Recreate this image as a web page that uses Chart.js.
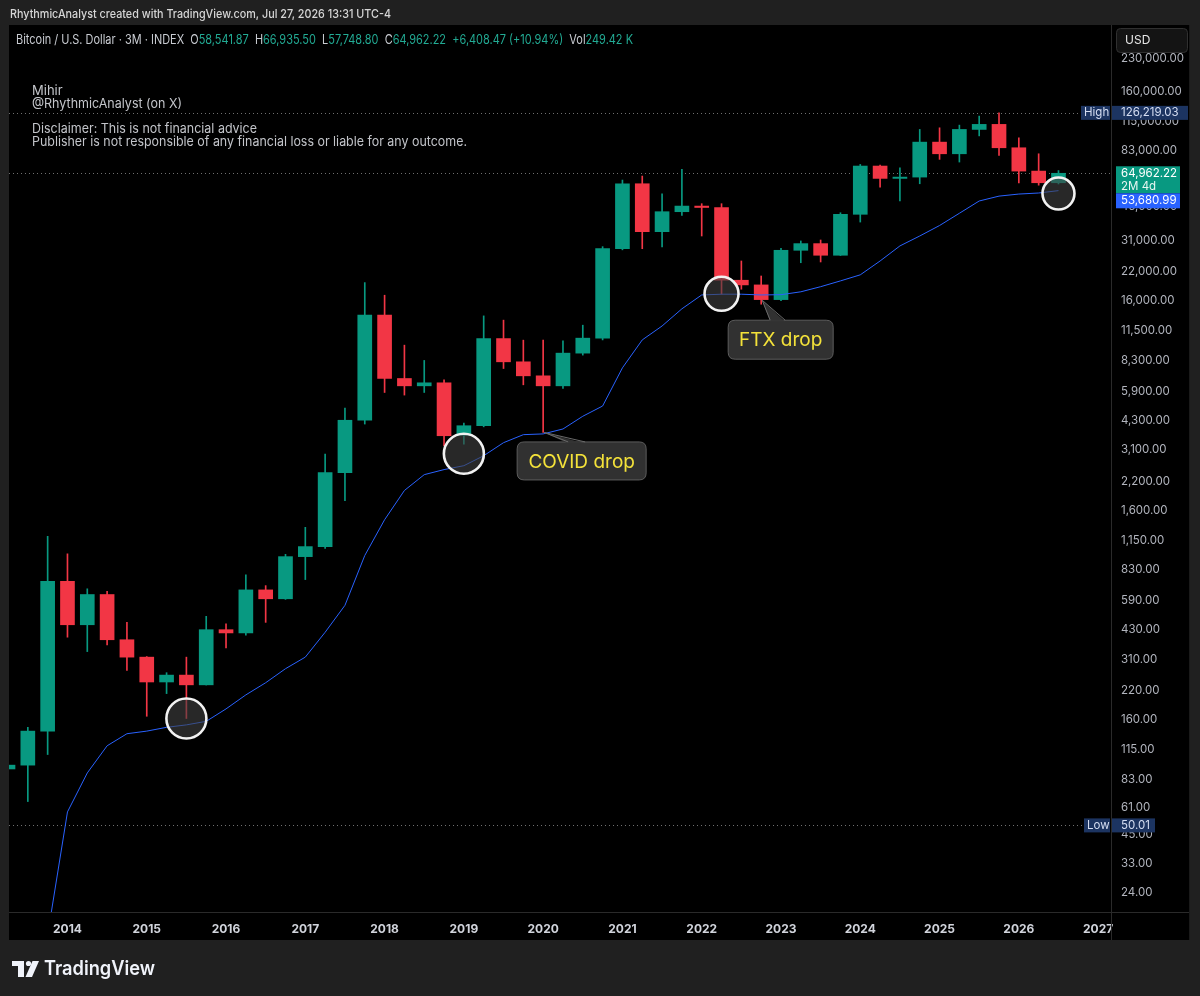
<!DOCTYPE html>
<html>
<head>
<meta charset="utf-8">
<title>Bitcoin / U.S. Dollar · 3M · INDEX</title>
<script src="https://cdn.jsdelivr.net/npm/chart.js@4.4.1/dist/chart.umd.min.js"></script>
<style>
  html, body { margin: 0; padding: 0; background: #202020; overflow: hidden; }
  canvas { display: block; }
</style>
</head>
<body>
<canvas id="chart" width="1200" height="996"></canvas>
<script>
// ---------------- DATA ----------------
const quarters = [
  '2013 Q2','2013 Q3','2013 Q4',
  '2014 Q1','2014 Q2','2014 Q3','2014 Q4',
  '2015 Q1','2015 Q2','2015 Q3','2015 Q4',
  '2016 Q1','2016 Q2','2016 Q3','2016 Q4',
  '2017 Q1','2017 Q2','2017 Q3','2017 Q4',
  '2018 Q1','2018 Q2','2018 Q3','2018 Q4',
  '2019 Q1','2019 Q2','2019 Q3','2019 Q4',
  '2020 Q1','2020 Q2','2020 Q3','2020 Q4',
  '2021 Q1','2021 Q2','2021 Q3','2021 Q4',
  '2022 Q1','2022 Q2','2022 Q3','2022 Q4',
  '2023 Q1','2023 Q2','2023 Q3','2023 Q4',
  '2024 Q1','2024 Q2','2024 Q3','2024 Q4',
  '2025 Q1','2025 Q2','2025 Q3','2025 Q4',
  '2026 Q1','2026 Q2','2026 Q3'
];
const opens = [
  93, 97, 141,
  732, 454, 633, 385,
  318, 242, 261, 234.5,
  430, 415, 666, 604,
  960, 1072, 2416, 4300,
  13650, 6805, 6278, 6490,
  3650, 4049, 10555, 8175,
  7008, 6278, 8993, 10603,
  28350, 57900, 34180, 42580,
  45300, 44600, 20045, 19040,
  16200, 27860, 29980, 26380,
  41380, 70340, 61400, 62300,
  91500, 80500, 105200, 111200,
  86000, 66550, 58541.87
];
const highs = [
  266, 147, 1200,
  990, 674, 656, 466,
  320, 268, 318, 498,
  458, 785, 698, 985,
  1325, 2967, 4915, 19530,
  17000, 9818, 8300, 6708,
  4166, 13545, 12925, 10373,
  10373, 10290, 12228, 29000,
  60300, 63000, 51870, 67800,
  46500, 46500, 24770, 21000,
  28450, 30870, 31200, 42100,
  71600, 71000, 69000, 105200,
  107100, 110300, 121800, 126219.03,
  95900, 80500, 66935.50
];
const lows = [
  50.01, 65, 109,
  396, 338, 364, 275,
  166, 213, 162, 234,
  352, 405, 466, 600,
  746, 1050, 1777, 4124,
  5835, 5671, 5835, 3250,
  3310, 4000, 7594, 6349,
  3761, 6096, 8800, 10400,
  28000, 28350, 28900, 40900,
  32600, 17190, 18160, 15400,
  16000, 24300, 24500, 26300,
  38000, 55800, 47900, 57900,
  75700, 73500, 98000, 79100,
  58500, 57000, 57748.80
];
const closes = [
  97, 141, 732,
  454, 633, 385, 318,
  242, 261, 234.5, 430,
  415, 666, 604, 960,
  1072, 2416, 4300, 13650,
  6805, 6278, 6490, 3627,
  4049, 10555, 8175, 7008,
  6278, 8993, 10603, 28350,
  57900, 34180, 42580, 45300,
  44600, 20045, 19040, 16200,
  27860, 29980, 26380, 41380,
  70340, 61400, 62300, 91500,
  80500, 105200, 111200, 86000,
  66550, 58541.87, 64962.22
];
const maValues = [
  null, null, 15,
  58, 89, 120, 137,
  141, 147, 151, 157,
  180, 210, 240, 280,
  318, 418, 562, 972,
  1440, 1987, 2364, 2500,
  2609, 2911, 3360, 3670,
  3700, 3907, 4493, 5028,
  7650, 10400, 12120, 14640,
  17050, 17190, 17190, 17050,
  17100, 17650, 18670, 19900,
  21270, 24770, 29230, 32600,
  36580, 41850, 47900, 50540,
  51700, 52300, 53680.99
];
const yTickValues = [24, 33, 45, 61, 83, 115, 160, 220, 310, 430, 590, 830, 1150, 1600, 2200,
  3100, 4300, 5900, 8300, 11500, 16000, 22000, 31000, 45000, 61000, 83000, 115000, 160000, 230000];
const yearLabels = ['2014','2015','2016','2017','2018','2019','2020','2021','2022','2023','2024','2025','2026','2027'];

// annotations (anchored to data through the scales)
const circleQuarters = ['2015 Q3', '2019 Q1', '2022 Q2', '2026 Q3'];
const circlePrices = [162, 2974, 17270, 52000];
const calloutTexts = ['COVID drop', 'FTX drop'];
const calloutQuarters = ['2020 Q1', '2022 Q4'];

// ---------------- helpers ----------------
const FONT = 'Inter, "Noto Sans", "DejaVu Sans", sans-serif';
const GREEN = '#089981', RED = '#f23645', MA_BLUE = '#2962ff';
const fmt2 = new Intl.NumberFormat('en-US', { minimumFractionDigits: 2, maximumFractionDigits: 2 });
const q1Index = year => (year - 2013) * 4 - 1;      // index of Q1 of a year (Q2 2013 = 0)
const isUp = i => closes[i] >= opens[i];
const candleColor = c => isUp(c.dataIndex) ? GREEN : RED;

const bodies = quarters.map((q, i) => ({ x: i, y: [opens[i], closes[i]] }));
const wicks  = quarters.map((q, i) => ({ x: i, y: [lows[i], highs[i]] }));
const maPoints = quarters.map((q, i) => ({ x: i, y: maValues[i] }));

function fitText(ctx, text, x, y, width, font, color) {
  ctx.save();
  ctx.font = font;
  const w = ctx.measureText(text).width;
  ctx.translate(x, y);
  if (width) ctx.scale(width / w, 1);
  ctx.fillStyle = color;
  ctx.textAlign = 'left';
  ctx.textBaseline = 'middle';
  ctx.fillText(text, 0, 0);
  ctx.restore();
}
function rrect(ctx, x, y, w, h, r) {
  ctx.beginPath();
  ctx.moveTo(x + r, y);
  ctx.lineTo(x + w - r, y); ctx.quadraticCurveTo(x + w, y, x + w, y + r);
  ctx.lineTo(x + w, y + h - r); ctx.quadraticCurveTo(x + w, y + h, x + w - r, y + h);
  ctx.lineTo(x + r, y + h); ctx.quadraticCurveTo(x, y + h, x, y + h - r);
  ctx.lineTo(x, y + r); ctx.quadraticCurveTo(x, y, x + r, y);
  ctx.closePath();
}
function dotted(ctx, x1, x2, y, color) {
  ctx.save();
  ctx.strokeStyle = color; ctx.lineWidth = 1;
  ctx.setLineDash([1, 3]);
  ctx.beginPath(); ctx.moveTo(x1, Math.round(y) + 0.5); ctx.lineTo(x2, Math.round(y) + 0.5); ctx.stroke();
  ctx.restore();
}

// ---------------- plugin: TradingView chrome + annotations ----------------
const chromePlugin = {
  id: 'chrome',
  beforeDraw(chart) {
    const ctx = chart.ctx;
    ctx.save();
    ctx.fillStyle = '#202020'; ctx.fillRect(0, 0, 1200, 996);
    ctx.fillStyle = '#000000'; ctx.fillRect(9, 25, 1181, 915);
    ctx.restore();
  },
  beforeDatasetsDraw(chart) {
    const ctx = chart.ctx, y = chart.scales.y, a = chart.chartArea;
    const hi = Math.max(...highs), lo = Math.min(...lows), last = closes[closes.length - 1];
    dotted(ctx, a.left, 1081, y.getPixelForValue(hi), 'rgba(160,160,160,0.7)');
    dotted(ctx, a.left, a.right, y.getPixelForValue(last), 'rgba(160,160,160,0.7)');
    dotted(ctx, a.left, 1084, y.getPixelForValue(lo), 'rgba(160,160,160,0.7)');
  },
  afterDatasetsDraw(chart) {
    const ctx = chart.ctx, xs = chart.scales.x, ys = chart.scales.y;
    const radii = [20, 20, 17, 16];
    ctx.save();
    circleQuarters.forEach((q, k) => {
      const cx = xs.getPixelForValue(quarters.indexOf(q));
      const cy = ys.getPixelForValue(circlePrices[k]);
      ctx.beginPath(); ctx.arc(cx, cy, radii[k], 0, Math.PI * 2);
      ctx.fillStyle = 'rgba(66,66,66,0.6)'; ctx.fill();
      ctx.lineWidth = 2.6; ctx.strokeStyle = '#f2f2f2'; ctx.stroke();
    });
    // callouts
    const geo = [
      { dx: -26, dy: 9.5, w: 129, h: 38, b1: 25, b2: 42, tipDy: 0 },
      { dx: -33, dy: 16, w: 105, h: 39, b1: 9, b2: 24, tipDy: -4 }
    ];
    calloutTexts.forEach((t, k) => {
      const i = quarters.indexOf(calloutQuarters[k]);
      const tx = xs.getPixelForValue(i), ty = ys.getPixelForValue(lows[i]);
      const g = geo[k];
      const bx = tx + g.dx, by = ty + g.dy;
      rrect(ctx, bx, by, g.w, g.h, 7);
      ctx.fillStyle = 'rgba(52,52,52,0.95)'; ctx.fill();
      ctx.lineWidth = 1; ctx.strokeStyle = '#5c5c5c'; ctx.stroke();
      ctx.beginPath();
      ctx.moveTo(tx + 1, ty + g.tipDy);
      ctx.lineTo(tx + g.b2, by + 1.5);
      ctx.lineTo(tx + g.b1, by + 1.5);
      ctx.closePath();
      ctx.fillStyle = 'rgba(52,52,52,0.95)'; ctx.fill();
      ctx.beginPath();
      ctx.moveTo(tx + g.b1, by); ctx.lineTo(tx + 1, ty + g.tipDy); ctx.lineTo(tx + g.b2, by);
      ctx.strokeStyle = '#6a6a6a'; ctx.stroke();
      ctx.font = '19px ' + FONT;
      ctx.fillStyle = '#f4e23a'; ctx.textAlign = 'center'; ctx.textBaseline = 'middle';
      ctx.fillText(t, bx + g.w / 2, by + g.h / 2 + 1);
    });
    ctx.restore();
  },
  afterDraw(chart) {
    const ctx = chart.ctx, ys = chart.scales.y, a = chart.chartArea;
    ctx.save();
    // separators
    ctx.fillStyle = '#2a2a2a';
    ctx.fillRect(a.right, 25, 1, 915);
    ctx.fillRect(9, a.bottom, 1181, 1);
    ctx.fillStyle = '#1a1a1a';
    ctx.fillRect(1189, 25, 1, 915);

    // top strip
    fitText(ctx, 'RhythmicAnalyst created with TradingView.com, Jul 27, 2026 13:31 UTC-4',
      10, 14, 381, '500 12px ' + FONT, '#d6d6d6');

    // header legend
    const gray = '#c9ccd2', grn = '#22ab94';
    const segs = [
      ['Bitcoin / U.S. Dollar · 3M · INDEX', gray], ['  O', gray], ['58,541.87', grn],
      ['  H', gray], ['66,935.50', grn], ['  L', gray], ['57,748.80', grn],
      ['  C', gray], ['64,962.22', grn], ['  +6,408.47 (+10.94%)', grn],
      ['  Vol', gray], ['249.42 K', grn]
    ];
    ctx.font = '13px ' + FONT;
    const total = segs.reduce((s, p) => s + ctx.measureText(p[0]).width, 0);
    const sx = 617 / total;
    ctx.save();
    ctx.translate(16, 40); ctx.scale(sx, 1);
    ctx.textBaseline = 'middle'; ctx.textAlign = 'left';
    let cx = 0;
    segs.forEach(p => { ctx.fillStyle = p[1]; ctx.fillText(p[0], cx, 0); cx += ctx.measureText(p[0]).width; });
    ctx.restore();

    // author & disclaimer
    const tcol = '#c3c5ca';
    fitText(ctx, 'Mihir', 32, 91, 0, '13px ' + FONT, tcol);
    fitText(ctx, '@RhythmicAnalyst (on X)', 32, 104, 150, '13px ' + FONT, tcol);
    fitText(ctx, 'Disclaimer: This is not financial advice', 32, 129, 225, '13px ' + FONT, tcol);
    fitText(ctx, 'Publisher is not responsible of any financial loss or liable for any outcome.', 32, 142, 435, '13px ' + FONT, tcol);

    // right-axis labels
    const navy = '#1c3461', navyTxt = '#d4ddf2';
    const LF = '11.5px ' + FONT;
    const hi = Math.max(...highs), lo = Math.min(...lows);
    const last = closes[closes.length - 1], ma = maValues[maValues.length - 1];
    const yH = ys.getPixelForValue(hi);
    ctx.fillStyle = navy;
    ctx.fillRect(1081, yH - 7, 29, 14);
    ctx.fillRect(1112, yH - 7, 76, 14);
    fitText(ctx, 'High', 1084, yH, 0, LF, navyTxt);
    fitText(ctx, fmt2.format(hi), 1121, yH, 0, LF, navyTxt);

    const yL = ys.getPixelForValue(lo);
    ctx.fillStyle = navy;
    ctx.fillRect(1084, yL - 7, 26, 14);
    ctx.fillRect(1112, yL - 7, 43, 14);
    fitText(ctx, 'Low', 1087, yL, 0, LF, navyTxt);
    fitText(ctx, fmt2.format(lo), 1121, yL, 0, LF, navyTxt);

    const yC = ys.getPixelForValue(last);
    ctx.fillStyle = GREEN;
    ctx.fillRect(1116, yC - 7, 64, 27);
    fitText(ctx, fmt2.format(last), 1121, yC, 0, LF, '#ffffff');
    fitText(ctx, '2M 4d', 1121, yC + 13, 0, LF, '#e8f6f2');
    ctx.fillStyle = MA_BLUE;
    ctx.fillRect(1116, yC + 20, 64, 15);
    fitText(ctx, fmt2.format(ma), 1121, yC + 27.5, 0, LF, '#ffffff');

    // USD button
    rrect(ctx, 1116.5, 28.5, 71, 24, 4);
    ctx.fillStyle = '#141414'; ctx.fill();
    ctx.strokeStyle = '#303030'; ctx.lineWidth = 1; ctx.stroke();
    fitText(ctx, 'USD', 1125, 40.5, 0, '12px ' + FONT, '#e6e6e6');

    // TradingView logo
    ctx.fillStyle = '#f0f3fa';
    ctx.fillRect(12, 961, 12, 5);
    ctx.fillRect(18, 961, 6, 16);
    ctx.beginPath(); ctx.arc(28.5, 963.5, 2.6, 0, Math.PI * 2); ctx.fill();
    ctx.beginPath();
    ctx.moveTo(32.5, 961); ctx.lineTo(39, 961); ctx.lineTo(32, 977); ctx.lineTo(25.5, 977);
    ctx.closePath(); ctx.fill();
    fitText(ctx, 'TradingView', 44, 969, 111, '600 20px ' + FONT, '#f0f3fa');
    ctx.restore();
  }
};

// ---------------- chart ----------------
new Chart(document.getElementById('chart'), {
  type: 'bar',
  data: {
    datasets: [
      { type: 'line', label: 'MA', data: maPoints, borderColor: MA_BLUE, borderWidth: 1,
        pointRadius: 0, tension: 0, spanGaps: false, order: 1, clip: 0 },
      { type: 'bar', label: 'Body', data: bodies, backgroundColor: candleColor,
        barThickness: 14, grouped: false, order: 2, clip: 0, borderWidth: 0 },
      { type: 'bar', label: 'Wick', data: wicks, backgroundColor: candleColor,
        barThickness: 1, grouped: false, order: 3, clip: 0, borderWidth: 0 }
    ]
  },
  options: {
    responsive: false,
    animation: false,
    events: [],
    layout: { padding: { left: 9, top: 26, right: 9, bottom: 56 } },
    plugins: { legend: { display: false }, tooltip: { enabled: false } },
    scales: {
      x: {
        type: 'linear', position: 'bottom', min: 0.05, max: 55.65, offset: false,
        grid: { display: false, drawTicks: false },
        border: { display: false },
        afterBuildTicks: s => { s.ticks = yearLabels.map(y => ({ value: q1Index(+y) })); },
        afterFit: s => { s.height = 28; },
        ticks: {
          autoSkip: false, maxRotation: 0, padding: 10, color: '#d1d4dc',
          font: { family: FONT, size: 12, weight: '700' },
          callback: v => { const k = yearLabels.findIndex(y => q1Index(+y) === v); return k >= 0 ? yearLabels[k] : ''; }
        }
      },
      y: {
        type: 'logarithmic', position: 'right', min: 19.3, max: 328000,
        grid: { display: false, drawTicks: false },
        border: { display: false },
        afterBuildTicks: s => { s.ticks = yTickValues.map(v => ({ value: v })); },
        afterFit: s => { s.width = 80; },
        ticks: {
          autoSkip: false, padding: 10, color: '#b2b5be',
          font: { family: FONT, size: 11.5 },
          callback: v => fmt2.format(v)
        }
      }
    }
  },
  plugins: [chromePlugin]
});
</script>
</body>
</html>
